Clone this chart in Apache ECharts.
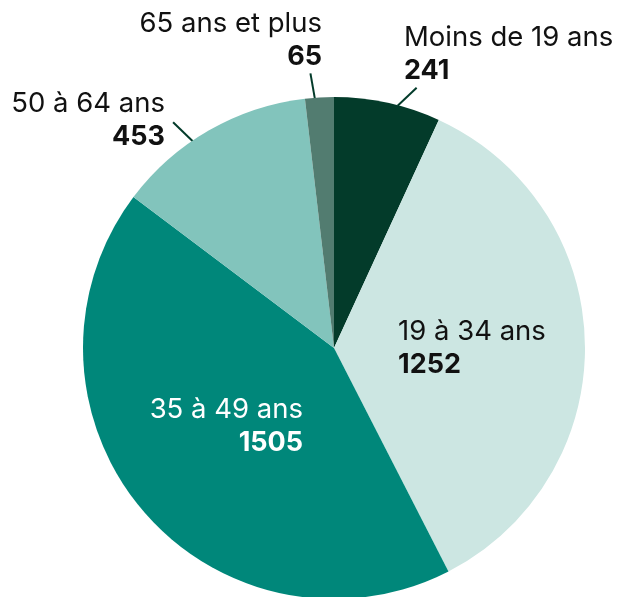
<!DOCTYPE html>
<html>
<head>
<meta charset="utf-8">
<script src="https://cdn.jsdelivr.net/npm/echarts@6/dist/echarts.min.js"></script>
<style>
  html, body { margin: 0; padding: 0; background: #ffffff; }
  #chart { width: 624px; height: 597px; }
</style>
</head>
<body>
<div id="chart"></div>
<script>
// tranches d'âge, dans le sens horaire à partir de midi
var categories = ['Moins de 19 ans', '19 à 34 ans', '35 à 49 ans', '50 à 64 ans', '65 ans et plus'];
var values = [241, 1252, 1505, 453, 65];
var colors = ['#033b2a', '#cce6e2', '#00877a', '#82c4bc', '#527c70'];

// placement des étiquettes (x, y = coin d'ancrage, align = côté)
var labelPlace = [
  { x: 404, y: 21, align: 'left', outside: true, shift: [10, 3], vec: [19, -18] },
  { x: 398, y: 315, align: 'left', outside: false },
  { x: 303, y: 393, align: 'right', outside: false, light: true },
  { x: 165, y: 87, align: 'right', outside: true, shift: [-6, 21], vec: [-30, -29] },
  { x: 322, y: 7, align: 'right', outside: true, shift: [-2, 16], vec: [-7, -40] }
];

var chart = echarts.init(document.getElementById('chart'));

var seriesData = categories.map(function (name, i) {
  var p = labelPlace[i];
  var txt = p.light ? '#ffffff' : '#111111';
  return {
    name: name,
    value: values[i],
    itemStyle: { color: colors[i] },
    label: {
      position: p.outside ? 'outside' : 'inside',
      formatter: '{n|{b}}\n{v|{c}}',
      rich: {
        n: { fontFamily: 'Inter', fontSize: 27.5, lineHeight: 33, color: txt, align: p.align },
        v: { fontFamily: 'Inter', fontSize: 27, lineHeight: 33, fontWeight: 'bold', color: txt, align: p.align }
      }
    },
    labelLine: { show: p.outside }
  };
});

var option = {
  backgroundColor: '#ffffff',
  animation: false,
  series: [{
    type: 'pie',
    center: [334, 348],
    radius: 251,
    startAngle: 90,
    clockwise: true,
    avoidLabelOverlap: false,
    emphasis: { disabled: true },
    itemStyle: { borderWidth: 0 },
    label: { show: true },
    labelLine: {
      length: 20,
      length2: 0,
      lineStyle: { color: '#033b2a', width: 2 }
    },
    labelLayout: function (params) {
      var p = labelPlace[params.dataIndex];
      var out = { x: p.x, y: p.y, align: p.align, verticalAlign: 'top' };
      if (p.outside && params.labelLinePoints) {
        var a = params.labelLinePoints[0];
        var s = [a[0] + p.shift[0], a[1] + p.shift[1]];
        out.labelLinePoints = [s, [s[0] + p.vec[0], s[1] + p.vec[1]]];
      }
      return out;
    },
    data: seriesData
  }]
};

chart.setOption(option);
</script>
</body>
</html>
